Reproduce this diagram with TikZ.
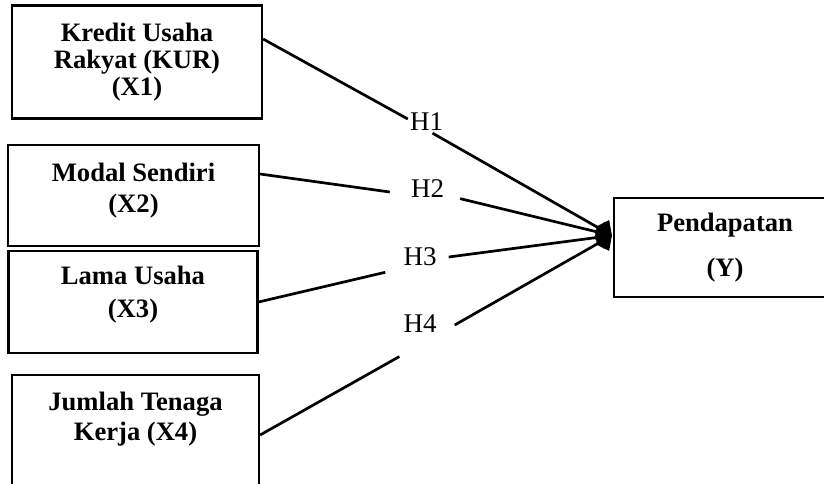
\documentclass[tikz,border=0pt]{standalone}
\usepackage{fontspec}
\setmainfont{Liberation Serif}
\usepackage{tikz}
\usetikzlibrary{arrows.meta}

\tikzset{
  varbox/.style={draw, line width=2.2pt, align=center, inner sep=0pt,
    font=\bfseries\fontsize{26.6}{27}\selectfont},
  hyp/.style={inner sep=0pt, font=\fontsize{27}{30}\selectfont},
  link/.style={line width=2.7pt},
}

\begin{document}
\begin{tikzpicture}[x=1pt, y=-1pt, >={Kite[length=18pt,width=24pt,inset=8pt]}]
  \useasboundingbox (0,0) rectangle (824,483);
  \clip (0,0) rectangle (824,483);
  % variables
  \node[varbox, minimum width=250, minimum height=113] (kur) at (137,62)
    {Kredit Usaha\\Rakyat (KUR)\\(X1)};
  \node[varbox, minimum width=251, minimum height=101, text depth=14.5pt] (modal) at (133.5,195.5)
    {Modal Sendiri\\[4pt](X2)};
  \node[varbox, minimum width=249, minimum height=102, text depth=19.5pt] (lama) at (133,302)
    {Lama Usaha\\[6pt](X3)};
  \node[varbox, minimum width=247, minimum height=130, text depth=48pt] (tenaga) at (135.5,440)
    {Jumlah Tenaga\\[3pt]Kerja (X4)};
  \node[varbox, minimum width=222, minimum height=99] (pend) at (725,247.5)
    {Pendapatan\\[18pt](Y)};
  % hypotheses
  \node[hyp] (h1) at (426.5,122) {H1};
  \node[hyp] (h2) at (427.5,188.5) {H2};
  \node[hyp] (h3) at (420,257) {H3};
  \node[hyp] (h4) at (420,323.5) {H4};
  % paths
  \draw[link] ([shift={(0,-23)}]kur.east) -- ([shift={(-2,-3)}]h1.west);
  \draw[link,->] ([shift={(6,2)}]h1.south) -- ([shift={(-1,-12)}]pend.west);
  \draw[link] ([shift={(0,-21.5)}]modal.east) -- ([shift={(-21,3.5)}]h2.west);
  \draw[link,->] ([shift={(16,1)}]h2.south east) -- ([shift={(-1,-12)}]pend.west);
  \draw[link] (lama.east) -- ([shift={(-18,6)}]h3.south west);
  \draw[link,->] ([shift={(12,0)}]h3.east) -- ([shift={(-1,-12)}]pend.west);
  \draw[link] ([shift={(0,-5)}]tenaga.east) -- ([shift={(-4,24)}]h4.south west);
  \draw[link,->] ([shift={(18,1.5)}]h4.east) -- ([shift={(-1,-12)}]pend.west);
\end{tikzpicture}
\end{document}
